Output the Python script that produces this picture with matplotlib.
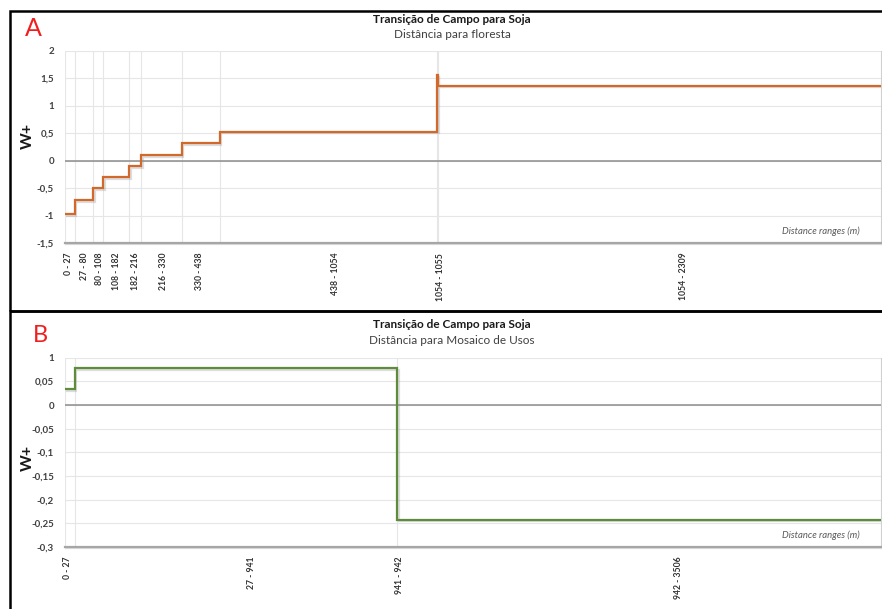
import matplotlib.pyplot as plt
import matplotlib.patheffects as pe
from matplotlib.patches import Rectangle

plt.rcParams['font.family'] = ['Lato', 'DejaVu Sans']

# Painel A - distancia para floresta
a_bounds = [0, 27, 80, 108, 182, 216, 330, 438, 1054, 1055, 2309]
a_wplus = [-0.98, -0.72, -0.50, -0.30, -0.10, 0.10, 0.32, 0.53, 1.57, 1.37]
a_ranges = ['0 - 27', '27 - 80', '80 - 108', '108 - 182', '182 - 216',
            '216 - 330', '330 - 438', '438 - 1054', '1054 - 1055', '1054 - 2309']
a_label_at = [11, 54, 97, 146, 200, 280, 380, 767, 1064, 1752]
a_yticks = [2, 1.5, 1, 0.5, 0, -0.5, -1, -1.5]
a_ylabels = ['2', '1,5', '1', '0,5', '0', '-0,5', '-1', '-1,5']

# Painel B - distancia para mosaico de usos
b_bounds = [0, 27, 941, 3506]
b_wplus = [0.033, 0.078, -0.243]
b_ranges = ['0 - 27', '27 - 941', '941 - 942', '942 - 3506']
b_label_at = [6, 529, 948, 1737]
b_yticks = [0.1, 0.05, 0, -0.05, -0.1, -0.15, -0.2, -0.25, -0.3]
b_ylabels = ['1', '0,05', '0', '-0,05', '-0,1', '-0,15', '-0,2', '-0,25', '-0,3']

X_MAX = 2310
W, H = 882, 609


def draw_panel(ax, bounds, wplus, ranges, label_at, yticks, ylabels, color):
    shadow = [pe.SimpleLineShadow(offset=(1.0, -1.0), shadow_color='#909090', alpha=0.3),
              pe.Normal()]
    ax.stairs(wplus, bounds, baseline=None, color=color, lw=1.6,
              path_effects=shadow, zorder=4)
    ax.axhline(0, color='#8c8c8c', lw=1.1, zorder=3)
    ax.set_xlim(0, X_MAX)
    ax.set_ylim(min(yticks), max(yticks))
    ax.set_yticks(yticks, ylabels)
    ax.set_xticks(label_at, ranges, rotation=90)
    ax.set_xticks(bounds[:-1], minor=True)
    ax.grid(which='minor', axis='x', color='#e6e6e6', lw=0.8)
    ax.grid(which='major', axis='y', color='#e6e6e6', lw=0.8)
    ax.set_axisbelow(True)
    ax.tick_params(which='both', length=0)
    ax.tick_params(axis='y', labelsize=7, pad=8, labelcolor='#404040')
    ax.tick_params(axis='x', labelsize=6.2, pad=7, labelcolor='#333333')
    for lab in ax.get_yticklabels() + ax.get_xticklabels():
        lab.set_fontweight('bold')
    for side in ['left', 'top']:
        ax.spines[side].set_visible(False)
    ax.spines['right'].set_color('#d0d0d0')
    ax.spines['right'].set_path_effects(shadow)
    ax.spines['bottom'].set_color('#a6a6a6')
    ax.spines['bottom'].set_linewidth(1.6)
    ax.spines['bottom'].set_path_effects(shadow)
    ax.text(0.974, 0.06, 'Distance ranges (m)', transform=ax.transAxes,
            ha='right', va='center', fontsize=6.8, style='italic', color='#595959')


fig = plt.figure(figsize=(W / 100, H / 100), dpi=100)

ax_a = fig.add_axes([65 / W, 1 - 243 / H, 816 / W, 192 / H])
draw_panel(ax_a, a_bounds, a_wplus, a_ranges, a_label_at, a_yticks, a_ylabels, '#d2692a')

ax_b = fig.add_axes([65 / W, 1 - 547 / H, 816 / W, 189.3 / H])
draw_panel(ax_b, b_bounds, b_wplus, b_ranges, b_label_at, b_yticks, b_ylabels, '#5e8c3c')

# titulos
fig.text(452 / W, 1 - 19.5 / H, 'Transição de Campo para Soja', ha='center', va='center',
         fontsize=8.5, fontweight='bold', color='#1a1a1a')
fig.text(452 / W, 1 - 34 / H, 'Distância para floresta', ha='center', va='center',
         fontsize=8.5, color='#404040')
fig.text(452 / W, 1 - 325 / H, 'Transição de Campo para Soja', ha='center', va='center',
         fontsize=8.5, fontweight='bold', color='#1a1a1a')
fig.text(452 / W, 1 - 340 / H, 'Distância para Mosaico de Usos', ha='center', va='center',
         fontsize=8.5, color='#404040')

# rotulos W+
fig.text(28 / W, 1 - 136 / H, 'W+', rotation=90, ha='center', va='center',
         fontsize=11.5, fontweight='bold', color='#1a1a1a')
fig.text(28 / W, 1 - 458 / H, 'W+', rotation=90, ha='center', va='center',
         fontsize=11.5, fontweight='bold', color='#1a1a1a')

# letras dos paineis
fig.text(33 / W, 1 - 28 / H, 'A', ha='center', va='center', fontsize=18, color='#f01e1e')
fig.text(40 / W, 1 - 335 / H, 'B', ha='center', va='center', fontsize=17, color='#f01e1e')

# molduras
fig.add_artist(Rectangle((10 / W, 1 - 311 / H), 900 / W, 300 / H, transform=fig.transFigure,
                         fill=False, ec='black', lw=1.8))
fig.add_artist(Rectangle((10 / W, -0.05), 900 / W, 1 - 311 / H + 0.05, transform=fig.transFigure,
                         fill=False, ec='black', lw=1.8))

fig.savefig('out.png', dpi=100)
plt.close()
